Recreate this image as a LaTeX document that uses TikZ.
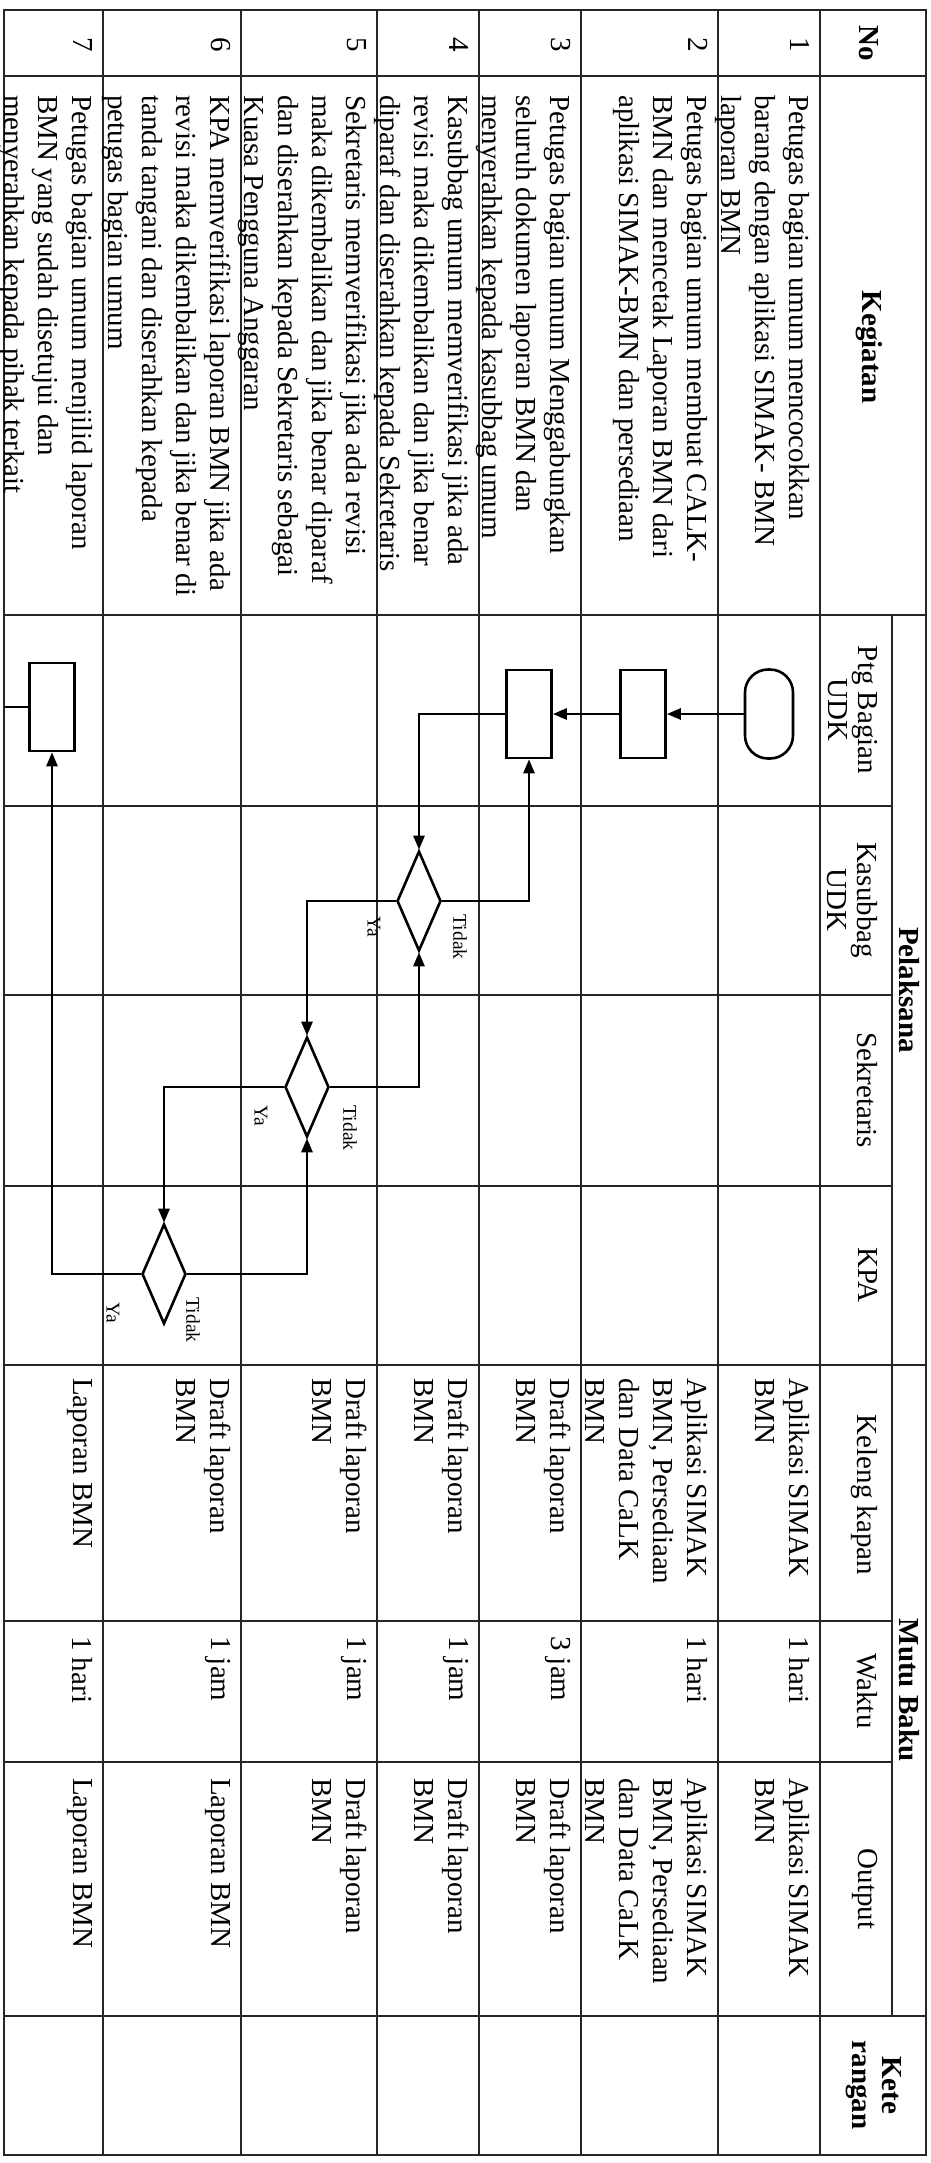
\documentclass[tikz,border=0pt]{standalone}
\usepackage{fontspec}
\setmainfont{Liberation Serif}
\usetikzlibrary{shapes.geometric,arrows.meta}
\begin{document}
\begin{tikzpicture}[x=1pt,y=-1pt,
  grid/.style={line width=1.8pt,black!85},
  flow/.style={line width=2.6pt,black},
  arr/.style={flow,-{Triangle[length=14pt,width=11pt]}},
  procbox/.style={draw,flow,rectangle,minimum width=45pt,minimum height=88pt,inner sep=0pt},
  termbox/.style={draw,flow,rectangle,rounded corners=23pt,minimum width=48pt,minimum height=89pt,inner sep=0pt},
  decis/.style={draw,flow,diamond,minimum width=44pt,minimum height=100pt,inner sep=0pt},
  body/.style={rotate=-90,anchor=north west,align=left,inner sep=0pt,font=\fontsize{29}{34}\selectfont},
  num/.style={rotate=-90,anchor=north,inner sep=0pt,font=\fontsize{29}{34}\selectfont},
  hdr/.style={rotate=-90,anchor=north,align=center,inner sep=0pt,font=\fontsize{29}{30}\selectfont},
  bhdr/.style={rotate=-90,anchor=center,align=center,inner sep=0pt,font=\fontsize{29}{30}\selectfont\bfseries},
  yt/.style={rotate=-90,anchor=center,inner sep=0pt,font=\fontsize{19.5}{20}\selectfont}
]
\fill[white] (0,0) rectangle (931,2163);
\useasboundingbox (0,0) rectangle (931,2163);

% ---------- table grid ----------
\draw[grid] (4,10) rectangle (926,2155);
\foreach \x in {103,241,377,479,581,718,820}
  \draw[grid] (\x,10) -- (\x,2155);
\draw[grid] (892,615) -- (892,2016);
\foreach \y in {76,615,1365,2016}
  \draw[grid] (4,\y) -- (926,\y);
\foreach \y in {806,995,1186,1621,1762}
  \draw[grid] (4,\y) -- (892,\y);

% ---------- header ----------
\node[bhdr] (hNo) at (869,43) {No};
\node[bhdr] (hKeg) at (869,347) {Kegiatan};
\node[bhdr] (hPel) at (909,990) {Pelaksana};
\node[bhdr] (hMutu) at (909,1690) {Mutu Baku};
\node[bhdr,anchor=north] (hKet) at (902,2085) {Kete\\rangan};
\node[hdr] (hPtg) at (878,710) {Ptg Bagian\\UDK};
\node[hdr] (hKas) at (878,900) {Kasubbag\\UDK};
\node[hdr] (hSek) at (878,1090) {Sekretaris};
\node[hdr] (hKPA) at (878,1275) {KPA};
\node[hdr] (hKel) at (878,1495) {Keleng kapan};
\node[hdr] (hWak) at (878,1691) {Waktu};
\node[hdr] (hOut) at (878,1889) {Output};

% ---------- numbers ----------
\node[num] (n1) at (810,45) {1};
\node[num] (n2) at (708,45) {2};
\node[num] (n3) at (571,45) {3};
\node[num] (n4) at (469,45) {4};
\node[num] (n5) at (367,45) {5};
\node[num] (n6) at (231,45) {6};
\node[num] (n7) at (93,45) {7};

% ---------- kegiatan ----------
\node[body] (k1) at (810,95) {Petugas bagian umum mencocokkan\\barang dengan aplikasi SIMAK- BMN\\laporan BMN};
\node[body] (k2) at (708,95) {Petugas bagian umum membuat CALK-\\BMN dan mencetak Laporan BMN dari\\aplikasi SIMAK-BMN dan persediaan};
\node[body] (k3) at (571,95) {Petugas bagian umum Menggabungkan\\seluruh dokumen laporan BMN dan\\menyerahkan kepada kasubbag umum};
\node[body] (k4) at (469,95) {Kasubbag umum memverifikasi jika ada\\revisi maka dikembalikan dan jika benar\\diparaf dan diserahkan kepada Sekretaris};
\node[body] (k5) at (367,95) {Sekretaris memverifikasi jika ada revisi\\maka dikembalikan dan jika benar diparaf\\dan diserahkan kepada Sekretaris sebagai\\Kuasa Pengguna Anggaran};
\node[body] (k6) at (231,95) {KPA memverifikasi laporan BMN jika ada\\revisi maka dikembalikan dan jika benar di\\tanda tangani dan diserahkan kepada\\petugas bagian umum};
\node[body] (k7) at (93,95) {Petugas bagian umum menjilid laporan\\BMN yang sudah disetujui dan\\menyerahkan kepada pihak terkait};

% ---------- kelengkapan ----------
\node[body] (l1) at (810,1378) {Aplikasi SIMAK\\BMN};
\node[body] (l2) at (708,1378) {Aplikasi SIMAK\\BMN, Persediaan\\dan Data CaLK\\BMN};
\node[body] (l3) at (571,1378) {Draft laporan\\BMN};
\node[body] (l4) at (469,1378) {Draft laporan\\BMN};
\node[body] (l5) at (367,1378) {Draft laporan\\BMN};
\node[body] (l6) at (231,1378) {Draft laporan\\BMN};
\node[body] (l7) at (93,1378) {Laporan BMN};

% ---------- waktu ----------
\node[body] (w1) at (810,1636) {1 hari};
\node[body] (w2) at (708,1636) {1 hari};
\node[body] (w3) at (571,1636) {3 jam};
\node[body] (w4) at (469,1636) {1 jam};
\node[body] (w5) at (367,1636) {1 jam};
\node[body] (w6) at (231,1636) {1 jam};
\node[body] (w7) at (93,1636) {1 hari};

% ---------- output ----------
\node[body] (o1) at (810,1778) {Aplikasi SIMAK\\BMN};
\node[body] (o2) at (708,1778) {Aplikasi SIMAK\\BMN, Persediaan\\dan Data CaLK\\BMN};
\node[body] (o3) at (571,1778) {Draft laporan\\BMN};
\node[body] (o4) at (469,1778) {Draft laporan\\BMN};
\node[body] (o5) at (367,1778) {Draft laporan\\BMN};
\node[body] (o6) at (231,1778) {Laporan BMN};
\node[body] (o7) at (93,1778) {Laporan BMN};

% ---------- flowchart ----------
\node[termbox] (T1) at (769,714) {};
\node[procbox] (R2) at (643,714) {};
\node[procbox] (R3) at (529,714) {};
\node[decis] (D1) at (419,901) {};
\node[decis] (D2) at (307,1087) {};
\node[decis] (D3) at (164,1274) {};
\node[procbox] (R7) at (52,707) {};
\coordinate (E7) at (4,707);

\draw[arr] (T1.west) -- (R2.east);
\draw[arr] (R2.west) -- (R3.east);
\draw[arr] (R3.west) -| (D1.north);
\draw[arr] (D1.east) -| (R3.south);
\draw[arr] (D1.west) -| (D2.north);
\draw[arr] (D2.east) -| (D1.south);
\draw[arr] (D2.west) -| (D3.north);
\draw[arr] (D3.east) -| (D2.south);
\draw[arr] (D3.west) -| (R7.south);
\draw[flow] (R7.west) -- (E7);

% ---------- decision labels ----------
\node[yt] (t1) at (460,937) {Tidak};
\node[yt] (y1) at (374,927) {Ya};
\node[yt] (t2) at (350,1128) {Tidak};
\node[yt] (y2) at (261,1116) {Ya};
\node[yt] (t3) at (193,1320) {Tidak};
\node[yt] (y3) at (113,1313) {Ya};
\end{tikzpicture}
\end{document}
